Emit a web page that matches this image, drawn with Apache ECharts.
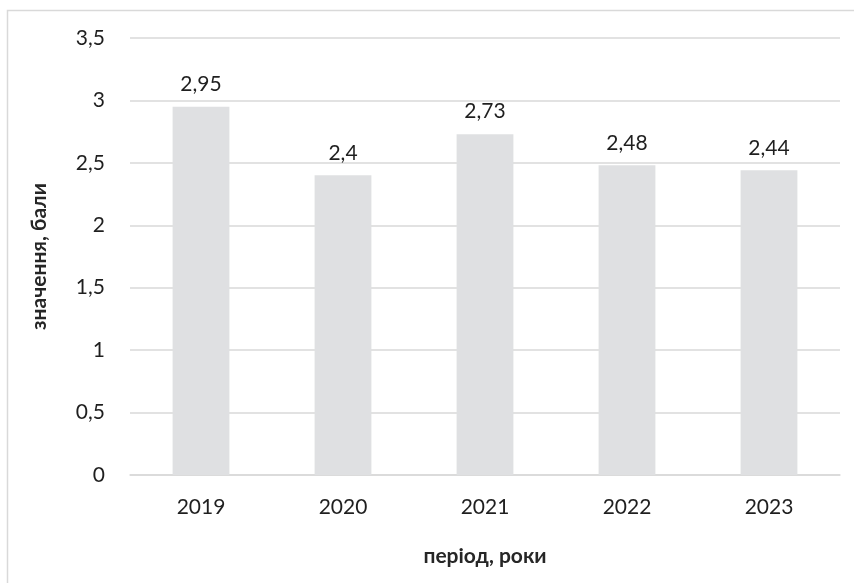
<!DOCTYPE html>
<html>
<head>
<meta charset="utf-8">
<script src="https://cdn.jsdelivr.net/npm/echarts@6/dist/echarts.min.js"></script>
<style>html,body{margin:0;padding:0;background:#fff;}#c{width:854px;height:583px;}</style>
</head>
<body>
<div id="c"></div>
<script>
const categories = ['2019', '2020', '2021', '2022', '2023'];
const values = [2.95, 2.4, 2.73, 2.48, 2.44];
const yTicks = [0, 0.5, 1, 1.5, 2, 2.5, 3, 3.5];
const xTitle = 'період, роки';
const yTitle = 'значення, бали';

const FONT = "Lato, 'Open Sans', sans-serif";
const fmt = v => String(v).replace('.', ',');
const chart = echarts.init(document.getElementById('c'), null, {renderer: 'canvas'});
chart.setOption({
  animation: false,
  backgroundColor: '#fff',
  graphic: [{
    type: 'rect', silent: true,
    shape: {x: 7.5, y: 10.5, width: 1000, height: 1000},
    style: {fill: 'none', stroke: '#d9d9d9', lineWidth: 1.5}
  }],
  grid: {left: 130, right: 14, top: 38, bottom: 108, containLabel: false},
  xAxis: {
    type: 'category', data: categories,
    name: xTitle, nameLocation: 'middle', nameGap: 71,
    nameTextStyle: {fontFamily: FONT, fontSize: 21, fontWeight: 'bold', color: '#262626'},
    axisLine: {show: true, lineStyle: {color: '#d9d9d9', width: 1.5}},
    axisTick: {show: false},
    axisLabel: {fontFamily: FONT, fontSize: 21, color: '#1f1f1f', margin: 22}
  },
  yAxis: {
    type: 'value', min: yTicks[0], max: yTicks[yTicks.length - 1], interval: 0.5,
    name: yTitle, nameLocation: 'middle', nameGap: 80,
    nameTextStyle: {fontFamily: FONT, fontSize: 21, fontWeight: 'bold', color: '#262626'},
    axisLine: {show: false}, axisTick: {show: false},
    splitLine: {lineStyle: {color: '#d9d9d9', width: 1.5}},
    axisLabel: {fontFamily: FONT, fontSize: 21, color: '#1f1f1f', margin: 25, formatter: v => fmt(v)}
  },
  series: [{
    type: 'bar', data: values, barCategoryGap: '60%',
    itemStyle: {color: '#dfe0e2'},
    label: {show: true, position: 'top', distance: 12, fontFamily: FONT, fontSize: 21, color: '#1f1f1f',
            formatter: p => fmt(p.value)}
  }]
});
</script>
</body>
</html>
